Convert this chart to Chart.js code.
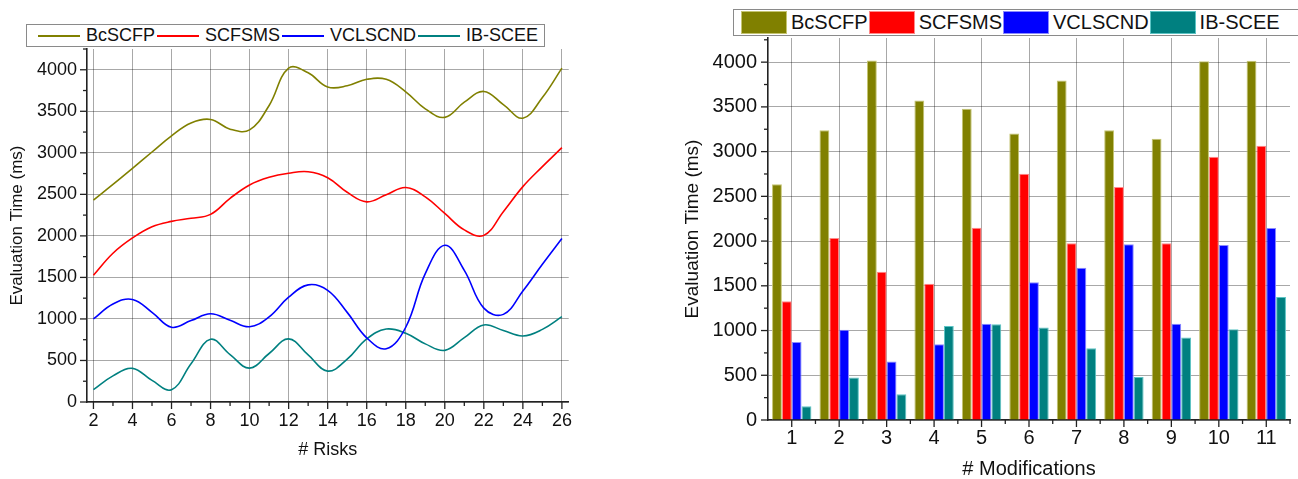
<!DOCTYPE html>
<html>
<head>
<meta charset="utf-8">
<script src="https://cdn.jsdelivr.net/npm/chart.js@4.4.1/dist/chart.umd.min.js"></script>
<style>
html,body{margin:0;padding:0;background:#fff;overflow:hidden;width:1298px;height:479px;}
#wrap{position:relative;width:1298px;height:479px;overflow:hidden;background:#fff;}
canvas{position:absolute;top:0;}
#c1{left:0;}
#c2{left:660px;}
.legend{position:absolute;box-sizing:border-box;border:1px solid #8a8a8a;display:flex;align-items:center;font-family:'Liberation Sans',Arial,sans-serif;color:#111;white-space:nowrap;background:#fff;}
#leg1{left:26px;top:24px;width:519px;height:23px;padding-left:11px;font-size:18px;}
#leg2{left:733px;top:9px;width:580px;height:27px;padding-left:7px;font-size:20px;}
#leg1 .mk{display:inline-block;width:42px;height:0;border-top-width:2px;border-top-style:solid;margin-right:6px;}
#leg1 .tx{margin-right:2px;}
#leg2 .mk{display:inline-block;box-sizing:border-box;width:46px;height:23px;margin-right:4px;border-width:1px;border-style:solid;}
#leg2 .tx{margin-right:1px;}
</style>
</head>
<body>
<div id="wrap">
  <canvas id="c1" width="580" height="479"></canvas>
  <canvas id="c2" width="640" height="479"></canvas>
  <div id="leg1" class="legend"></div>
  <div id="leg2" class="legend"></div>
</div>
<script>
// ---------- data ----------
const seriesNames = ['BcSCFP', 'SCFSMS', 'VCLSCND', 'IB-SCEE'];

// Left chart: # Risks (values at each integer x)
const risks = [2,3,4,5,6,7,8,9,10,11,12,13,14,15,16,17,18,19,20,21,22,23,24,25,26];
const riskBcSCFP  = [2432,2620,2814,3010,3205,3360,3402,3285,3276,3570,4020,3963,3793,3807,3885,3885,3735,3530,3427,3610,3739,3580,3417,3666,4020];
const riskSCFSMS  = [1526,1791,1975,2110,2175,2212,2259,2452,2613,2705,2754,2772,2700,2525,2410,2495,2583,2470,2270,2072,2006,2291,2593,2834,3063];
const riskVCLSCND = [1000,1180,1235,1080,900,980,1062,984,906,1025,1262,1410,1345,1079,773,641,900,1545,1887,1585,1130,1055,1336,1658,1968];
const riskIBSCEE  = [150,315,405,260,148,460,755,570,408,584,760,566,372,515,760,878,828,700,622,775,928,860,795,874,1027];
const riskTickLabels = [2,4,6,8,10,12,14,16,18,20,22,24,26];

// Right chart: # Modifications
const modifications = ['1','2','3','4','5','6','7','8','9','10','11'];
const modBcSCFP  = [2634,3240,4019,3572,3479,3203,3795,3240,3144,4011,4015];
const modSCFSMS  = [1327,2034,1658,1524,2150,2753,1975,2604,1975,2943,3066];
const modVCLSCND = [872,1010,653,847,1077,1539,1703,1964,1077,1956,2146];
const modIBSCEE  = [154,474,288,1051,1070,1033,802,482,921,1014,1375];

const timeTickLabels = [0,500,1000,1500,2000,2500,3000,3500,4000];

// ---------- styles ----------
const seriesColors = ['#808000', '#ff0000', '#0000ff', '#008080'];
const seriesEdge = ['#c4c470', '#ff8a8a', '#8a8aff', '#5cc4c4'];
const GRID = 'rgba(0,0,0,0.34)';
const AXIS = '#222';
const TXT = '#111';
Chart.defaults.font.family = "'Liberation Sans', Arial, sans-serif";
Chart.defaults.color = TXT;

// ---------- legends (HTML) ----------
function buildLegend(id, lineStyle) {
  const el = document.getElementById(id);
  seriesNames.forEach((n, i) => {
    const mk = document.createElement('span');
    mk.className = 'mk';
    if (lineStyle) {
      mk.style.borderTopColor = seriesColors[i];
    } else {
      mk.style.backgroundColor = seriesColors[i];
      mk.style.borderColor = seriesEdge[i];
    }
    const tx = document.createElement('span');
    tx.className = 'tx';
    tx.textContent = n;
    el.appendChild(mk); el.appendChild(tx);
  });
}
buildLegend('leg1', true);
buildLegend('leg2', false);

// ---------- tick marks plugin ----------
const tickMarks = {
  id: 'tickMarks',
  afterDraw(chart, args, opts) {
    const ctx = chart.ctx, xs = chart.scales.x, ys = chart.scales.y;
    ctx.save();
    ctx.strokeStyle = AXIS;
    ctx.lineWidth = 1.3;
    const line = (x1, y1, x2, y2) => { ctx.beginPath(); ctx.moveTo(x1, y1); ctx.lineTo(x2, y2); ctx.stroke(); };
    opts.xMarks(xs).forEach(m => line(m.px, ys.bottom, m.px, ys.bottom + m.len));
    ys.ticks.forEach(t => {
      const py = ys.getPixelForValue(t.value);
      const len = timeTickLabels.includes(t.value) ? 7 : 4;
      line(xs.left, py, xs.left - len, py);
    });
    ctx.restore();
  }
};

function timeTicks(max) {
  return (s) => { const t = []; for (let v = 0; v <= max; v += 250) t.push({ value: v }); s.ticks = t; };
}

// ---------- left chart ----------
const lineSeries = [riskBcSCFP, riskSCFSMS, riskVCLSCND, riskIBSCEE];
new Chart(document.getElementById('c1'), {
  type: 'line',
  data: {
    datasets: lineSeries.map((arr, i) => ({
      label: seriesNames[i],
      data: risks.map((x, j) => ({ x: x, y: arr[j] })),
      borderColor: seriesColors[i],
      backgroundColor: seriesColors[i],
      borderWidth: 1.6,
      pointRadius: 0,
      tension: 0.4,
      fill: false
    }))
  },
  options: {
    responsive: false,
    animation: false,
    layout: { padding: { left: 0, top: 49, right: 6, bottom: 0 } },
    plugins: {
      legend: { display: false },
      tooltip: { enabled: false },
      tickMarks: {
        xMarks: (xs) => xs.ticks.map(t => ({ px: xs.getPixelForValue(t.value), len: riskTickLabels.includes(t.value) ? 7 : 4 }))
      }
    },
    scales: {
      x: {
        type: 'linear', min: 1.67, max: 26.35,
        afterBuildTicks: (s) => { const t = []; for (let v = risks[0]; v <= risks[risks.length - 1]; v++) t.push({ value: v }); s.ticks = t; },
        ticks: { autoSkip: false, maxRotation: 0, padding: 8, font: { size: 18 }, color: TXT,
          callback: (v) => riskTickLabels.includes(v) ? String(v) : '' },
        grid: { drawTicks: false, lineWidth: 1,
          color: (c) => (c.tick && riskTickLabels.includes(c.tick.value)) ? GRID : 'rgba(0,0,0,0)' },
        border: { display: true, color: AXIS, width: 1.6 },
        title: { display: true, text: '# Risks', font: { size: 18 }, color: TXT, padding: { top: 0, bottom: 18 } },
        afterFit: (s) => { s.height = 77; }
      },
      y: {
        type: 'linear', min: 0, max: 4250,
        afterBuildTicks: timeTicks(4250),
        ticks: { autoSkip: false, padding: 10, font: { size: 18 }, color: TXT,
          callback: (v) => timeTickLabels.includes(v) ? String(v) : '' },
        grid: { drawTicks: false, lineWidth: 1,
          color: (c) => (c.tick && timeTickLabels.includes(c.tick.value)) ? GRID : 'rgba(0,0,0,0)' },
        border: { display: true, color: AXIS, width: 1.6 },
        title: { display: true, text: 'Evaluation Time (ms)', font: { size: 17 }, color: TXT, padding: { top: 7, bottom: 0 } },
        afterFit: (s) => { s.width = 87; }
      }
    }
  },
  plugins: [tickMarks]
});

// ---------- right chart ----------
const barSeries = [modBcSCFP, modSCFSMS, modVCLSCND, modIBSCEE];
new Chart(document.getElementById('c2'), {
  type: 'bar',
  data: {
    labels: modifications,
    datasets: barSeries.map((arr, i) => ({
      label: seriesNames[i],
      data: arr,
      backgroundColor: seriesColors[i],
      borderColor: seriesEdge[i],
      borderWidth: 1,
      categoryPercentage: 0.83,
      barPercentage: 1.0
    }))
  },
  options: {
    responsive: false,
    animation: false,
    layout: { padding: { left: 0, top: 38, right: 10, bottom: 0 } },
    plugins: {
      legend: { display: false },
      tooltip: { enabled: false },
      tickMarks: {
        xMarks: (xs) => {
          const m = [];
          for (let i = 0; i < modifications.length; i++) {
            const p = xs.getPixelForValue(i);
            m.push({ px: p, len: 7 });
            const next = i + 1 < modifications.length ? xs.getPixelForValue(i + 1) : p + (p - xs.getPixelForValue(i - 1));
            m.push({ px: (p + next) / 2, len: 4 });
          }
          return m;
        }
      }
    },
    scales: {
      x: {
        type: 'category', offset: true,
        ticks: { autoSkip: false, maxRotation: 0, padding: 6, font: { size: 20 }, color: TXT },
        grid: { drawTicks: false, offset: false, lineWidth: 1, color: GRID },
        border: { display: true, color: AXIS, width: 1.6 },
        title: { display: true, text: '# Modifications', font: { size: 20, lineHeight: 1 }, color: TXT, padding: { top: 0, bottom: 0 } },
        afterFit: (s) => { s.height = 59; }
      },
      y: {
        type: 'linear', min: 0, max: 4270,
        afterBuildTicks: timeTicks(4270),
        ticks: { autoSkip: false, padding: 11, font: { size: 20 }, color: TXT,
          callback: (v) => timeTickLabels.includes(v) ? String(v) : '' },
        grid: { drawTicks: false, lineWidth: 1,
          color: (c) => (c.tick && timeTickLabels.includes(c.tick.value)) ? GRID : 'rgba(0,0,0,0)' },
        border: { display: true, color: AXIS, width: 1.6 },
        title: { display: true, text: 'Evaluation Time (ms)', font: { size: 19 }, color: TXT, padding: { top: 21, bottom: 0 } },
        afterFit: (s) => { s.width = 108; }
      }
    }
  },
  plugins: [tickMarks]
});
</script>
</body>
</html>
